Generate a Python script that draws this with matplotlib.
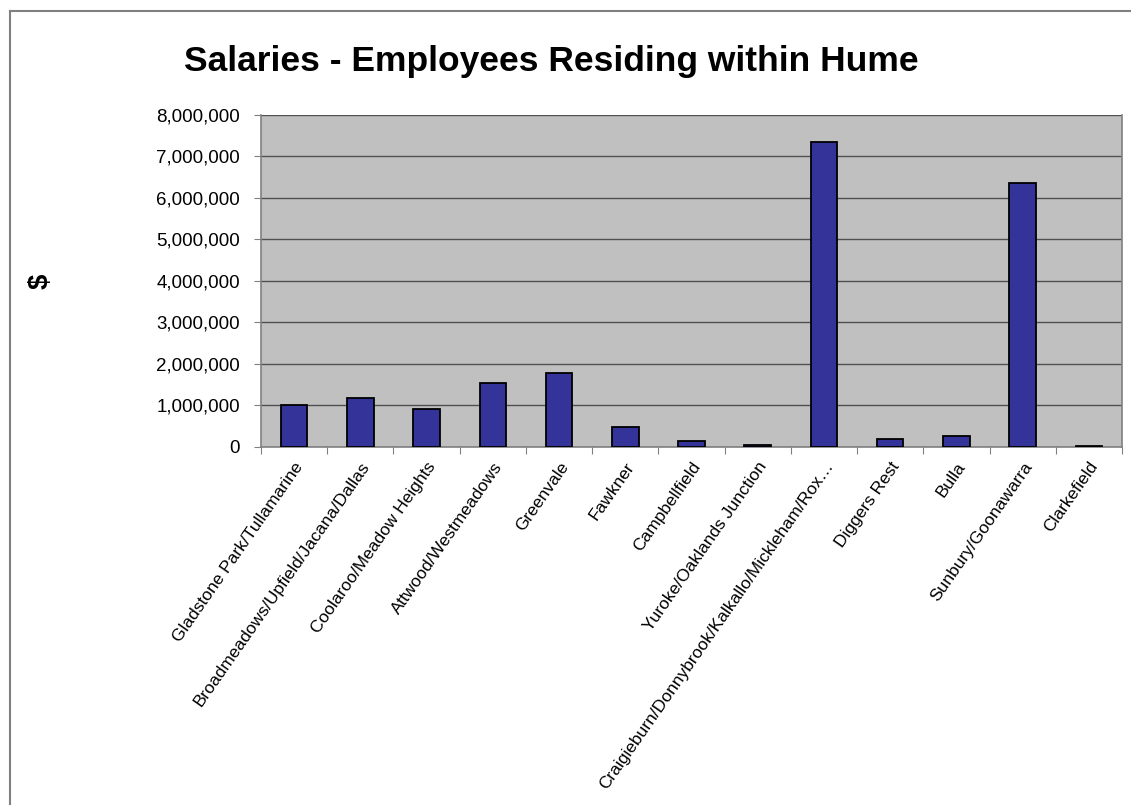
import matplotlib
matplotlib.use("Agg")
import matplotlib.pyplot as plt
from matplotlib.lines import Line2D
from matplotlib.ticker import FuncFormatter

plt.rcParams['font.family'] = ['Liberation Sans', 'DejaVu Sans']

suburbs = ["Gladstone Park/Tullamarine",
           "Broadmeadows/Upfield/Jacana/Dallas",
           "Coolaroo/Meadow Heights",
           "Attwood/Westmeadows",
           "Greenvale",
           "Fawkner",
           "Campbellfield",
           "Yuroke/Oaklands Junction",
           "Craigieburn/Donnybrook/Kalkallo/Mickleham/Rox\u2026",
           "Diggers Rest",
           "Bulla",
           "Sunbury/Goonawarra",
           "Clarkefield"]
salaries = [1000000, 1180000, 910000, 1530000, 1780000, 470000, 135000,
            30000, 7360000, 175000, 250000, 6360000, 10000]
y_ticks = [0, 1000000, 2000000, 3000000, 4000000, 5000000, 6000000, 7000000, 8000000]

fig = plt.figure(figsize=(11.31, 8.05), dpi=100)
ax = fig.add_axes([261/1131, 1 - 446.7/805, 861/1131, (446.7 - 115)/805])

x = range(len(suburbs))
ax.bar(x, salaries, width=0.4, color="#333399", edgecolor="black", linewidth=1.3, zorder=3)

ax.set_facecolor("#C0C0C0")
ax.set_xlim(-0.5, len(suburbs) - 0.5)
ax.set_ylim(0, 8000000)
ax.set_yticks(y_ticks)
ax.yaxis.set_major_formatter(FuncFormatter(lambda v, p: "{:,.0f}".format(v)))
ax.grid(axis="y", color="#505050", linewidth=1.0, zorder=1)
ax.tick_params(axis="y", labelsize=13.5, length=5, color="#808080", pad=10)

# category boundary ticks like the original
ax.set_xticks([i - 0.5 for i in range(len(suburbs) + 1)])
ax.set_xticklabels([])
ax.set_xticks(list(x), minor=True)
ax.set_xticklabels(suburbs, minor=True, rotation=55, ha="right",
                   rotation_mode="anchor", fontsize=12.5)
ax.tick_params(axis="x", which="major", length=5, color="#808080")
ax.tick_params(axis="x", which="minor", length=0, pad=9)

for side in ["left", "bottom", "right", "top"]:
    ax.spines[side].set_color("#808080")
    ax.spines[side].set_linewidth(1.2)
ax.spines["top"].set_visible(False)

ax.set_ylabel("$", fontsize=20, fontweight="bold")
ax.yaxis.set_label_coords((54 - 261)/861, 0.5)

fig.text(551/1131, 1 - 62/805, "Salaries - Employees Residing within Hume",
         ha="center", va="center", fontsize=25.5, fontweight="bold")

# outer chart border (cropped at right and bottom)
fig.add_artist(Line2D([9.5/1131, 9.5/1131], [0, 1 - 11/805],
                      transform=fig.transFigure, color="#808080", linewidth=1.5))
fig.add_artist(Line2D([9.5/1131, 1], [1 - 11/805, 1 - 11/805],
                      transform=fig.transFigure, color="#808080", linewidth=1.5))

fig.savefig("out.png", dpi=100)
